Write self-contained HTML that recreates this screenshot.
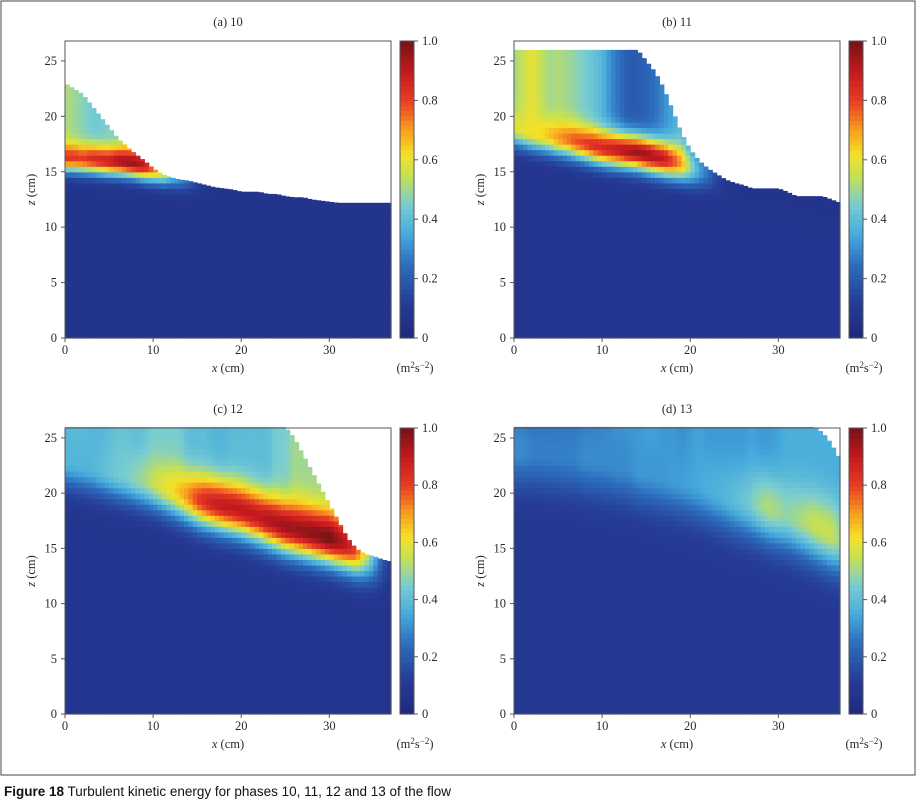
<!DOCTYPE html>
<html><head><meta charset="utf-8">
<style>
html,body{margin:0;padding:0;background:#fff;}
svg{display:block;}
text{font-family:"Liberation Serif",serif;font-size:12.5px;fill:#2a2a2a;}
.cap{font-family:"Liberation Sans",sans-serif;font-size:13.5px;fill:#111;}
</style></head>
<body>
<svg id="fig" width="916" height="802" viewBox="0 0 916 802" xmlns="http://www.w3.org/2000/svg">
<rect x="1" y="1" width="914" height="774" fill="none" stroke="#666" stroke-width="1.2"/>
<g id="panels"></g>
<text x="4" y="796" class="cap"><tspan font-weight="bold">Figure 18</tspan> Turbulent kinetic energy for phases 10, 11, 12 and 13 of the flow</text>
</svg>
<script>
// x positions 0..37 cm (1 cm step)
const xCm = [0,1,2,3,4,5,6,7,8,9,10,11,12,13,14,15,16,17,18,19,20,21,22,23,24,25,26,27,28,29,30,31,32,33,34,35,36,37];
const panelTitles = ["(a) 10","(b) 11","(c) 12","(d) 13"];
const xTicks = [0,10,20,30];
const zTicks = [0,5,10,15,20,25];
const cbTicks = [0,0.2,0.4,0.6,0.8,1.0];
const cbTickLabels = ["0","0.2","0.4","0.6","0.8","1.0"];

// Panel (a): free surface, band centre, band peak TKE, value above band
const surfA = [23,22.5,22,21,20,19,18,17.3,16.6,16,15.3,14.8,14.5,14.3,14.2,14,13.8,13.6,13.5,13.4,13.2,13.2,13.2,13,13,12.8,12.7,12.7,12.5,12.4,12.3,12.2,12.2,12.2,12.2,12.2,12.2,12.2];
const centA = [16.3,16.3,16.2,16.2,16.1,16,16,15.9,15.8,15.6,15.4,15.2,15,14.8,14.6,14.5,14.4,14.3,14.2,14,13.8,13.6,13.4,13.2,13,12.8,12.6,12.5,12.4,12.3,12.2,12.1,12,12,12,12,12,12];
const peakA = [0.82,0.82,0.8,0.85,0.86,0.88,0.93,0.95,0.95,0.9,0.75,0.65,0.45,0.35,0.25,0.15,0.1,0.08,0.07,0.07,0.07,0.07,0.07,0.07,0.07,0.07,0.07,0.07,0.07,0.07,0.07,0.07,0.07,0.07,0.07,0.07,0.07,0.07];
const upA = [0.52,0.5,0.47,0.44,0.44,0.46,0.46,0.5,0.52,0.55,0.55,0.45,0.35,0.2,0.1,0.08,0.07,0.07,0.07,0.07,0.07,0.07,0.07,0.07,0.07,0.07,0.07,0.07,0.07,0.07,0.07,0.07,0.07,0.07,0.07,0.07,0.07,0.07];

// Panel (b)
const surfB = [26,26,26,26,26,26,26,26,26,26,26,26,26,26,26,25,24,22.5,20.5,18.5,17,16,15.3,14.8,14.3,14,13.8,13.5,13.5,13.5,13.5,13.2,12.8,12.8,12.8,12.8,12.5,12.2];
const centB = [19,18.8,18.6,18.4,18.3,18.1,18,17.8,17.6,17.4,17.2,17.1,17,16.9,16.8,16.6,16.4,16.2,16,15.8,15.5,15.2,15,14.7,14.4,14.1,13.9,13.6,13.5,13.4,13.3,13.1,12.8,12.7,12.6,12.5,12.4,12.2];
const peakB = [0.58,0.6,0.62,0.62,0.66,0.7,0.74,0.78,0.8,0.84,0.85,0.88,0.9,0.93,0.95,0.95,0.92,0.9,0.8,0.7,0.5,0.35,0.25,0.15,0.1,0.08,0.07,0.07,0.07,0.07,0.07,0.07,0.07,0.07,0.07,0.07,0.07,0.07];
const upB = [0.5,0.55,0.6,0.55,0.5,0.52,0.5,0.48,0.45,0.42,0.38,0.3,0.25,0.2,0.2,0.22,0.25,0.3,0.35,0.4,0.3,0.2,0.15,0.1,0.08,0.07,0.07,0.07,0.07,0.07,0.07,0.07,0.07,0.07,0.07,0.07,0.07,0.07];

// Panel (c)
const surfC = [26,26,26,26,26,26,26,26,26,26,26,26,26,26,26,26,26,26,26,26,26,26,26,26,26,26,25,23.5,22,20.5,19,17.5,16,15,14.5,14.3,14,13.8];
const centC = [23,22.8,22.6,22.4,22.2,22,21.8,21.6,21.4,21.2,21,20.7,20.4,20.1,19.8,19.5,19.3,19.1,18.9,18.7,18.5,18.2,17.9,17.6,17.3,17,16.8,16.6,16.4,16.2,16,15.7,15.4,15,14.7,14.4,14.2,14];
const peakC = [0.38,0.38,0.38,0.38,0.4,0.42,0.44,0.45,0.48,0.5,0.55,0.58,0.62,0.66,0.72,0.8,0.85,0.88,0.9,0.9,0.9,0.9,0.9,0.92,0.93,0.95,0.95,0.96,0.97,0.98,1.0,0.95,0.9,0.8,0.6,0.4,0.2,0.1];
const upC = [0.38,0.4,0.4,0.38,0.38,0.4,0.42,0.42,0.4,0.42,0.45,0.45,0.45,0.45,0.4,0.4,0.4,0.38,0.38,0.4,0.4,0.4,0.4,0.4,0.45,0.45,0.5,0.5,0.5,0.5,0.5,0.5,0.5,0.5,0.4,0.3,0.2,0.1];

// Panel (d)
const surfD = [26,26,26,26,26,26,26,26,26,26,26,26,26,26,26,26,26,26,26,26,26,26,26,26,26,26,26,26,26,26,26,26,26,26,26,25.5,24.5,23];
const centD = [24,23.9,23.8,23.7,23.6,23.5,23.4,23.3,23.2,23.1,23,22.8,22.6,22.4,22.2,22,21.8,21.6,21.4,21.2,21,20.8,20.5,20.2,19.9,19.6,19.4,19.2,19,18.7,18.4,18.1,17.8,17.5,17.2,16.8,16.4,16];
const peakD = [0.3,0.3,0.28,0.28,0.28,0.28,0.28,0.28,0.3,0.3,0.3,0.3,0.3,0.3,0.32,0.32,0.32,0.32,0.33,0.33,0.34,0.35,0.36,0.37,0.38,0.4,0.42,0.45,0.5,0.52,0.5,0.48,0.5,0.52,0.55,0.55,0.55,0.5];
const upD = [0.24,0.24,0.24,0.24,0.24,0.25,0.26,0.26,0.26,0.27,0.28,0.3,0.32,0.32,0.32,0.34,0.34,0.32,0.32,0.3,0.32,0.34,0.32,0.32,0.32,0.32,0.32,0.34,0.32,0.32,0.34,0.36,0.36,0.36,0.36,0.36,0.36,0.36];

const panelData = [
  {surf:surfA,cent:centA,peak:peakA,up:upA,base:0.07,w:1.3},
  {surf:surfB,cent:centB,peak:peakB,up:upB,base:0.08,w:1.6},
  {surf:surfC,cent:centC,peak:peakC,up:upC,base:0.08,w:2.4},
  {surf:surfD,cent:centD,peak:peakD,up:upD,base:0.1,w:3.2}
];
const layout = [
  {l:65,t:41,h:297,zmax:26.8},
  {l:514,t:41,h:297,zmax:26.8},
  {l:65,t:428,h:286,zmax:25.9},
  {l:514,t:428,h:286,zmax:25.9}
];
const PW = 326, XMAX = 37;

const cmap = [[0,[30,40,125]],[0.12,[38,60,150]],[0.25,[45,110,190]],[0.35,[70,170,220]],[0.45,[120,205,210]],[0.55,[200,225,80]],[0.62,[245,225,40]],[0.7,[248,160,30]],[0.8,[232,60,38]],[0.9,[195,25,30]],[1,[115,20,22]]];
function color(v){
  v=Math.max(0,Math.min(1,v));
  for(let i=1;i<cmap.length;i++){
    if(v<=cmap[i][0]){
      const a=cmap[i-1],b=cmap[i],f=(v-a[0])/(b[0]-a[0]);
      return 'rgb('+[0,1,2].map(k=>Math.round(a[1][k]+(b[1][k]-a[1][k])*f)).join(',')+')';
    }
  }
  return 'rgb(115,20,22)';
}
function lerpArr(arr,x){
  const i=Math.min(Math.floor(x),arr.length-2),f=x-i;
  return arr[i]+(arr[i+1]-arr[i])*f;
}
const NS='http://www.w3.org/2000/svg';
function mk(tag,attrs,parent){
  const e=document.createElementNS(NS,tag);
  for(const k in attrs)e.setAttribute(k,attrs[k]);
  parent.appendChild(e);return e;
}
const root=document.getElementById('panels');
panelData.forEach((d,p)=>{
  const L=layout[p];
  const xs=x=>L.l+x/XMAX*PW;
  const zs=z=>L.t+L.h-z/L.zmax*L.h;
  const g=mk('g',{},root);
  
  
  const cells=mk('g',{},g);
  
  
  const dx=0.5,dz=0.5;
  for(let x=0;x<XMAX;x+=dx){
    const xc=x+dx/2;
    const s=lerpArr(d.surf,xc),c=lerpArr(d.cent,xc),pk=lerpArr(d.peak,xc),up=lerpArr(d.up,xc);
    for(let z=0;z<s;z+=dz){
      const zc=z+dz/2;
      const g1=Math.exp(-Math.pow((zc-c)/d.w,2));
      let v=d.base+(pk-d.base)*g1;
      if(zc>c) v=Math.max(v, up+(pk-up)*g1);
      const ztop=Math.min(z+dz,s);
      const r=mk('rect',{x:xs(x).toFixed(2),y:zs(ztop).toFixed(2),width:(PW*dx/XMAX+0.6).toFixed(2),height:(zs(z)-zs(ztop)+0.6).toFixed(2),fill:color(v)},cells);
      
      
    }
  }
  const fr=mk('rect',{x:L.l,y:L.t,width:PW,height:L.h,fill:'none',stroke:'#555','stroke-width':1},g);
  
  
  const tt=mk('text',{x:L.l+PW/2,y:L.t-15,'text-anchor':'middle'},g);tt.textContent=panelTitles[p];
  
  
  xTicks.forEach(v=>{
    mk('line',{x1:xs(v),x2:xs(v),y1:L.t+L.h,y2:L.t+L.h+4,stroke:'#555'},g);
    const t=mk('text',{x:xs(v),y:L.t+L.h+16,'text-anchor':'middle'},g);t.textContent=v;
    
    
  });
  zTicks.forEach(v=>{
    mk('line',{x1:L.l-4,x2:L.l,y1:zs(v),y2:zs(v),stroke:'#555'},g);
    const t=mk('text',{x:L.l-8,y:zs(v)+4,'text-anchor':'end'},g);t.textContent=v;
    
    
  });
  const xt=mk('text',{x:L.l+PW/2,y:L.t+L.h+34,'text-anchor':'middle'},g);
  xt.innerHTML='<tspan font-style="italic">x</tspan> (cm)';
  
  
  const zt=mk('text',{x:0,y:0,'text-anchor':'middle',transform:'translate('+(L.l-30)+','+(L.t+L.h/2)+') rotate(-90)'},g);
  zt.innerHTML='<tspan font-style="italic">z</tspan> (cm)';
  
  
  // colorbar
  const cbx=L.l+PW+9,cbw=14;
  const cb=mk('g',{},g);
  
  
  const n=60;
  for(let i=0;i<n;i++){
    const v0=i/n,v1=(i+1)/n;
    mk('rect',{x:cbx,y:(L.t+L.h-v1*L.h).toFixed(2),width:cbw,height:(L.h/n+0.6).toFixed(2),fill:color((v0+v1)/2)},cb);
  }
  mk('rect',{x:cbx,y:L.t,width:cbw,height:L.h,fill:'none',stroke:'#555'},cb);
  cbTicks.forEach((v,i)=>{
    const y=L.t+L.h-v*L.h;
    mk('line',{x1:cbx+cbw,x2:cbx+cbw+4,y1:y,y2:y,stroke:'#555'},cb);
    const t=mk('text',{x:cbx+cbw+8,y:y+4},cb);t.textContent=cbTickLabels[i];
    
    
  });
  const u=mk('text',{x:cbx+cbw/2+8,y:L.t+L.h+34,'text-anchor':'middle'},g);
  u.innerHTML='(m<tspan dy="-4" font-size="9">2</tspan><tspan dy="4">s</tspan><tspan dy="-4" font-size="9">−2</tspan><tspan dy="4">)</tspan>';
  
  
});
</script>
</body></html>
